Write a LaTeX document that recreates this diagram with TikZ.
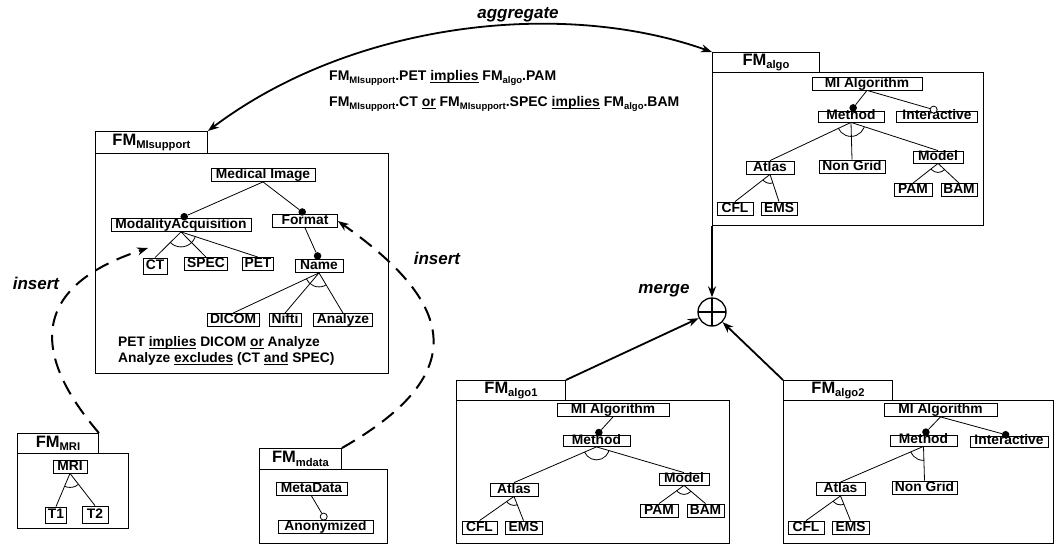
\documentclass[tikz,border=0pt]{standalone}
\usepackage{fontspec}
\setmainfont{Liberation Sans}
\usetikzlibrary{arrows.meta,calc}
\newcommand\ffont{\fontsize{13.8}{16}\selectfont\bfseries}
\newcommand\tfont{\fontsize{16.5}{18}\selectfont\bfseries}
\newcommand\FMt[1]{FM\raisebox{-3.5pt}{\fontsize{11.2}{12}\selectfont #1}}
\newcommand\FMc[1]{FM\raisebox{-3pt}{\fontsize{9.5}{10}\selectfont #1}}
\newsavebox\ulbox
\newcommand\uln[1]{\sbox\ulbox{#1}\rlap{\rule[-2.5pt]{\wd\ulbox}{0.9pt}}\usebox\ulbox}
\newcommand\altarc[4]{\begin{scope}\clip (#1) -- ($(#1)!6!(#2)$) -- ($(#1)!6!(#3)$) -- cycle; \draw[edge] (#1) circle[radius=#4pt];\end{scope}}
\begin{document}
\begin{tikzpicture}[x=1pt,y=-1pt,
 feat/.style={draw, line width=0.8pt, inner xsep=2pt, inner ysep=0pt, text height=10pt, text depth=3pt, font=\ffont},
 squat/.style={feat, text height=8.5pt, text depth=2.5pt},
 mw/.style={minimum width=#1pt},
 tab/.style={draw, line width=0.9pt, anchor=north west, inner sep=0pt, font=\tfont},
 frame/.style={draw, line width=0.9pt, anchor=north west, inner sep=0pt},
 edge/.style={line width=0.8pt},
 dotf/.style={circle, fill=black, inner sep=0pt, minimum size=7.5pt},
 doto/.style={circle, draw, fill=white, line width=0.8pt, inner sep=0pt, minimum size=7pt},
 flow/.style={line width=1.8pt, -{Stealth[length=11pt,width=8pt]}},
 ins/.style={line width=2pt, dash pattern=on 15pt off 9pt, -{Stealth[length=11pt,width=8pt]}},
 lab/.style={font=\fontsize{17}{19}\selectfont\bfseries\itshape},
]
\fill[white] (0,0) rectangle (1054,544);
\useasboundingbox (0,0) rectangle (1054,544);

% ---------- containers ----------
\node[frame, minimum width=293pt, minimum height=220pt] (boxMI) at (95,153) {};
\node[tab, minimum width=112pt, minimum height=22pt] (tabMI) at (95,131) {\FMt{MIsupport}};
\node[frame, minimum width=271pt, minimum height=153pt] (boxA) at (712,72) {};
\node[tab, minimum width=107pt, minimum height=20pt] (tabA) at (712,52) {\FMt{algo}};
\node[frame, minimum width=273pt, minimum height=143pt] (boxB) at (456,400) {};
\node[tab, minimum width=109pt, minimum height=20pt] (tabB) at (456,380) {\FMt{algo1}};
\node[frame, minimum width=270pt, minimum height=143pt] (boxC) at (783,400) {};
\node[tab, minimum width=109pt, minimum height=20pt] (tabC) at (783,380) {\FMt{algo2}};
\node[frame, minimum width=111pt, minimum height=75pt] (boxR) at (17,453) {};
\node[tab, minimum width=81pt, minimum height=20pt] (tabR) at (17,433) {\FMt{MRI}};
\node[frame, minimum width=128pt, minimum height=74pt] (boxM) at (259,469) {};
\node[tab, minimum width=82pt, minimum height=21pt] (tabM) at (259,448) {\FMt{mdata}};

% ---------- FM MIsupport ----------
\node[feat, mw=104] (mi) at (263,175) {Medical Image};
\node[feat, mw=140] (ma) at (181,225) {ModalityAcquisition};
\node[feat, mw=65] (fmt) at (305,221) {Format};
\node[feat, mw=24, minimum height=16pt] (ct) at (155,266) {CT};
\node[feat, mw=43] (spec) at (206,264) {SPEC};
\node[feat, mw=31] (pet) at (258,264) {PET};
\node[feat, mw=48] (name) at (319,266) {Name};
\node[feat, mw=52] (dicom) at (233,320) {DICOM};
\node[feat, mw=32] (nifti) at (285,320) {Nifti};
\node[feat, mw=59] (analyze) at (343,320) {Analyze};
\node[dotf] (dMA) at ($(ma.north)!3.5pt!(mi.south)$) {};
\node[dotf] (dFmt) at ($(fmt.north)!3.5pt!(mi.south)$) {};
\node[dotf] (dName) at ($(name.north)!3.5pt!(fmt.south)$) {};
\draw[edge] (mi.south) -- (dMA);
\draw[edge] (mi.south) -- (dFmt);
\draw[edge] (fmt.south) -- (dName);
\draw[edge] (ma.south) -- (ct.north);
\draw[edge] (ma.south) -- (spec.north);
\draw[edge] (ma.south) -- (pet.north);
\altarc{ma.south}{ct.north}{pet.north}{15}
\draw[edge] (name.south) -- (dicom.north);
\draw[edge] (name.south) -- (nifti.north);
\draw[edge] (name.south) -- (analyze.north);
\altarc{name.south}{dicom.north}{analyze.north}{14}
\node[anchor=north west, align=left, inner sep=0pt, font=\ffont] (consMI) at (118,336)
  {PET \uln{implies} DICOM \uln{or} Analyze\\Analyze \uln{excludes} (CT \uln{and} SPEC)};

% ---------- FM algo ----------
\node[feat, mw=110] (amI) at (867,83.5) {MI Algorithm};
\node[squat, mw=66] (ameth) at (851,116.5) {Method};
\node[squat, mw=81] (ainter) at (937,116.5) {Interactive};
\node[feat, mw=48] (aatlas) at (770,167.5) {Atlas};
\node[feat, mw=66] (ang) at (852,166.5) {Non Grid};
\node[squat, mw=50, minimum height=12pt] (amodel) at (938,157) {Model};
\node[feat, mw=38] (apam) at (913,190) {PAM};
\node[feat, mw=36] (abam) at (959,190) {BAM};
\node[feat, mw=36] (acfl) at (735,208.5) {CFL};
\node[feat, mw=36] (aems) at (779,208.5) {EMS};
\node[dotf] (daMeth) at ($(ameth.north)!3.5pt!(amI.south)$) {};
\node[doto] (daInter) at ($(ainter.north)!3.5pt!(amI.south)$) {};
\draw[edge] (amI.south) -- (daMeth);
\draw[edge] (amI.south) -- (daInter);
\draw[edge] (ameth.south) -- (aatlas.north);
\draw[edge] (ameth.south) -- (ang.north);
\draw[edge] (ameth.south) -- (amodel.north);
\altarc{ameth.south}{aatlas.north}{amodel.north}{14}
\draw[edge] (aatlas.south) -- (acfl.north);
\draw[edge] (aatlas.south) -- (aems.north);
\altarc{aatlas.south}{acfl.north}{aems.north}{9}
\draw[edge] (amodel.south) -- (apam.north);
\draw[edge] (amodel.south) -- (abam.north);
\altarc{amodel.south}{apam.north}{abam.north}{9}

% ---------- FM algo1 ----------
\node[feat, mw=112] (bmI) at (613,410) {MI Algorithm};
\node[squat, mw=67] (bmeth) at (596.5,441) {Method};
\node[feat, mw=48] (batlas) at (514,489.5) {Atlas};
\node[squat, mw=50, minimum height=12pt] (bmodel) at (684,479) {Model};
\node[feat, mw=35] (bcfl) at (479.5,527.5) {CFL};
\node[feat, mw=37] (bems) at (523.5,527.5) {EMS};
\node[feat, mw=38] (bpam) at (659,510.5) {PAM};
\node[feat, mw=37] (bbam) at (705.5,510.5) {BAM};
\node[dotf] (dbMeth) at ($(bmeth.north)!3.5pt!(bmI.south)$) {};
\draw[edge] (bmI.south) -- (dbMeth);
\draw[edge] (bmeth.south) -- (batlas.north);
\draw[edge] (bmeth.south) -- (bmodel.north);
\altarc{bmeth.south}{batlas.north}{bmodel.north}{13}
\draw[edge] (batlas.south) -- (bcfl.north);
\draw[edge] (batlas.south) -- (bems.north);
\altarc{batlas.south}{bcfl.north}{bems.north}{9}
\draw[edge] (bmodel.south) -- (bpam.north);
\draw[edge] (bmodel.south) -- (bbam.north);
\altarc{bmodel.south}{bpam.north}{bbam.north}{9}

% ---------- FM algo2 ----------
\node[feat, mw=113] (cmI) at (940.5,410) {MI Algorithm};
\node[squat, mw=67] (cmeth) at (923.5,440.5) {Method};
\node[squat, mw=78] (cinter) at (1009,441.5) {Interactive};
\node[feat, mw=65] (cng) at (924.5,487.5) {Non Grid};
\node[feat, mw=49] (catlas) at (840.5,489) {Atlas};
\node[feat, mw=36] (ccfl) at (806,527.5) {CFL};
\node[feat, mw=37] (cems) at (850.5,527.5) {EMS};
\node[dotf] (dcMeth) at ($(cmeth.north)!3.5pt!(cmI.south)$) {};
\node[dotf] (dcInter) at ($(cinter.north)!3.5pt!(cmI.south)$) {};
\draw[edge] (cmI.south) -- (dcMeth);
\draw[edge] (cmI.south) -- (dcInter);
\draw[edge] (cmeth.south) -- (catlas.north);
\draw[edge] (cmeth.south) -- (cng.north);
\altarc{cmeth.south}{catlas.north}{cng.north}{14}
\draw[edge] (catlas.south) -- (ccfl.north);
\draw[edge] (catlas.south) -- (cems.north);
\altarc{catlas.south}{ccfl.north}{cems.north}{9}

% ---------- FM MRI ----------
\node[feat, mw=34] (rmri) at (70,466.5) {MRI};
\node[feat, mw=21, minimum height=16pt] (rt1) at (56,515) {T1};
\node[feat, mw=26, minimum height=17pt] (rt2) at (95,514.5) {T2};
\draw[edge] (rmri.south) -- (rt1.north);
\draw[edge] (rmri.south) -- (rt2.north);
\altarc{rmri.south}{rt1.north}{rt2.north}{14}

% ---------- FM mdata ----------
\node[feat, mw=71] (mmd) at (311.5,489) {MetaData};
\node[feat, mw=95] (manon) at (325.5,526.5) {Anonymized};
\node[doto] (dmAnon) at ($(manon.north)!3.5pt!(mmd.south)$) {};
\draw[edge] (mmd.south) -- (dmAnon);

% ---------- cross-model constraints ----------
\node[anchor=west, inner sep=0pt, font=\fontsize{14}{16}\selectfont\bfseries] (cons1) at (329,78)
  {\FMc{MIsupport}.PET \uln{implies} \FMc{algo}.PAM};
\node[anchor=west, inner sep=0pt, font=\fontsize{14}{16}\selectfont\bfseries] (cons2) at (329,104)
  {\FMc{MIsupport}.CT \uln{or} \FMc{MIsupport}.SPEC \uln{implies} \FMc{algo}.BAM};

% ---------- operations ----------
\draw[line width=1.8pt, {Stealth[length=11pt,width=8pt]}-{Stealth[length=11pt,width=8pt]}]
  (tabMI.north east) .. controls (351,23) and (560,-2) .. (tabA.north west);
\node[lab] (agglab) at (518,15) {aggregate};

\node[draw, circle, line width=1.3pt, minimum size=28pt, inner sep=0pt,
  path picture={\draw[line width=1.3pt] (path picture bounding box.north) -- (path picture bounding box.south)
  (path picture bounding box.west) -- (path picture bounding box.east);}] (merge) at (712,312) {};
\node[lab] (mergelab) at (664,291) {merge};
\draw[flow] (boxA.south west) -- (merge);
\draw[flow] (tabB.north east) -- (merge);
\draw[flow] (tabC.north west) -- (merge);

\coordinate (insL) at (148,248);
\draw[ins] (tabR.north east) .. controls (58,385) and (1,296) .. (insL);
\draw[ins] (tabM.north east) .. controls (479,370) and (448,299) .. (fmt.east);
\node[lab] (inslabL) at (36,283) {insert};
\node[lab] (inslabR) at (437,258) {insert};
\end{tikzpicture}
\end{document}
